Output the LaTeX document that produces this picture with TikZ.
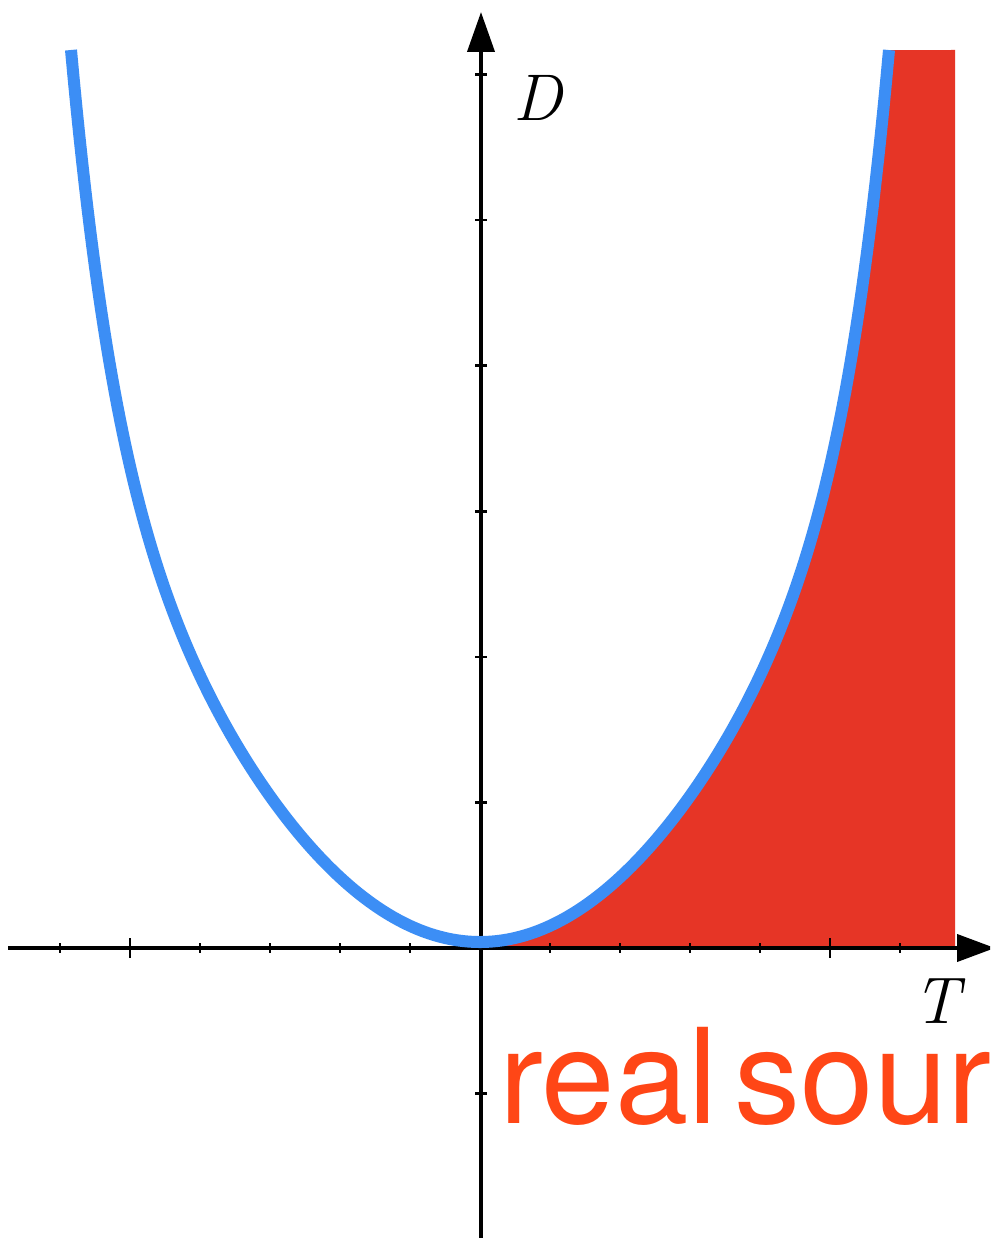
\documentclass[tikz,border=0pt]{standalone}
\usepackage{fontspec}
\newfontfamily\heros{TeX Gyre Heros}
\usetikzlibrary{arrows.meta}
\definecolor{curveblue}{RGB}{60,142,245}
\definecolor{fillred}{RGB}{230,53,38}
\definecolor{labelred}{RGB}{255,70,22}
\begin{document}
\begin{tikzpicture}[x=1pt,y=-1pt,
  axis/.style={line width=4pt,black},
  tickmark/.style={line width=2.6pt,black},
  curve/.style={line width=12pt,curveblue},
  axlabel/.style={inner sep=0pt,font=\itshape\fontsize{66}{66}\selectfont},
  srclabel/.style={inner sep=0pt,text=labelred,font=\heros\fontsize{132}{132}\selectfont}]
\clip (0,0) rectangle (990,1238);
\fill[white] (0,0) rectangle (990,1238);
% red region right of the curve
\fill[fillred] (480,948) -- plot[domain=0:409,samples=160]
  ({480+\x},{942-552*(\x/409)*(\x/409)-340*((\x/409)*(\x/409))^5})
  -- (955,50) -- (955,948) -- cycle;
% axes
\coordinate (xs) at (8,948);
\coordinate (xe) at (995,948);
\coordinate (ys) at (481,1238);
\coordinate (ye) at (481,12);
\draw[axis,-{Triangle[length=38pt,width=27pt]}] (xs) -- (xe);
\draw[axis,-{Triangle[length=40pt,width=27pt]}] (ys) -- (ye);
% ticks
\foreach \t in {60,200,270,340,410,550,620,690,760,900}
  \draw[tickmark] (\t,943) -- (\t,953);
\foreach \t in {130,830}
  \draw[tickmark] (\t,938) -- (\t,958);
\foreach \k in {-1,1,2,3,4,5,6}
  \draw[tickmark] (475,{948-145.6*\k}) -- (487,{948-145.6*\k});
% curve
\draw[curve] plot[domain=-409:409,samples=300]
  ({480+\x},{942-552*(\x/409)*(\x/409)-340*((\x/409)*(\x/409))^5});
% labels
\node[axlabel] (D) at (538,98) {D};
\node[axlabel] (T) at (937,1001) {T};
\node[srclabel,anchor=base west] (src) at (499,1123) {real\hspace{17pt}source};
\end{tikzpicture}
\end{document}
